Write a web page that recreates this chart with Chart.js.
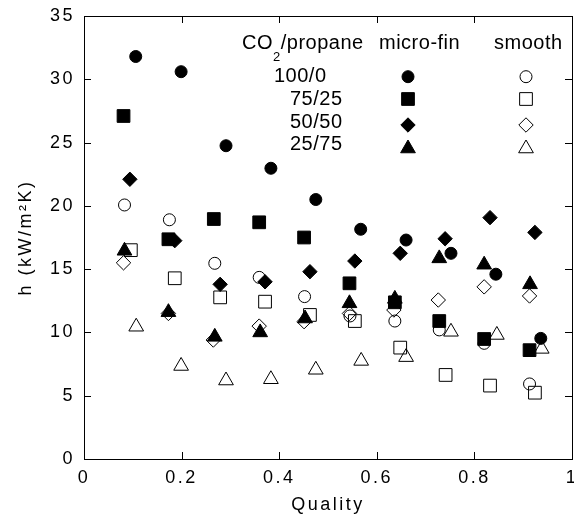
<!DOCTYPE html>
<html>
<head>
<meta charset="utf-8">
<script src="https://cdn.jsdelivr.net/npm/chart.js@4/dist/chart.umd.min.js"></script>
<style>
  html, body { margin: 0; padding: 0; background: #fff; overflow: hidden; }
  canvas { display: block; }
</style>
</head>
<body>
<canvas id="chart" width="574" height="518"></canvas>
<script>
/* quality (x) and heat transfer coefficient h in kW/m2K (y) */
var ratios = ["100/0", "75/25", "50/50", "25/75"];
var xTicks = [0, 0.2, 0.4, 0.6, 0.8, 1];
var yTicks = [0, 5, 10, 15, 20, 25, 30, 35];

// micro-fin tube
var qFin100 = [0.106, 0.199, 0.291, 0.383, 0.475, 0.567, 0.660, 0.752, 0.844, 0.936];
var hFin100 = [31.8, 30.6, 24.75, 22.97, 20.5, 18.15, 17.3, 16.25, 14.6, 9.53];
var qFin75 = [0.081, 0.173, 0.266, 0.359, 0.451, 0.544, 0.637, 0.728, 0.820, 0.913];
var hFin75 = [27.1, 17.36, 18.96, 18.7, 17.5, 13.88, 12.38, 10.9, 9.48, 8.6];
var qFin50 = [0.094, 0.186, 0.279, 0.371, 0.463, 0.555, 0.648, 0.740, 0.832, 0.924];
var hFin50 = [22.1, 17.25, 13.8, 14.0, 14.8, 15.64, 16.25, 17.4, 19.07, 17.9];
var qFin25 = [0.083, 0.173, 0.268, 0.361, 0.453, 0.544, 0.637, 0.728, 0.820, 0.914];
var hFin25 = [16.45, 11.6, 9.65, 10.0, 11.1, 12.3, 12.65, 15.85, 15.35, 13.8];

// smooth tube
var qSm100 = [0.083, 0.175, 0.268, 0.359, 0.452, 0.545, 0.637, 0.728, 0.820, 0.913];
var hSm100 = [20.07, 18.9, 15.46, 14.35, 12.83, 11.3, 10.9, 10.2, 9.14, 5.93];
var qSm75 = [0.096, 0.186, 0.279, 0.371, 0.463, 0.555, 0.648, 0.741, 0.832, 0.924];
var hSm75 = [16.5, 14.28, 12.77, 12.43, 11.38, 10.9, 8.8, 6.64, 5.8, 5.24];
var qSm50 = [0.081, 0.173, 0.265, 0.359, 0.451, 0.544, 0.635, 0.726, 0.820, 0.913];
var hSm50 = [15.5, 11.5, 9.4, 10.5, 10.85, 11.5, 11.77, 12.56, 13.6, 12.88];
var qSm25 = [0.107, 0.199, 0.291, 0.383, 0.475, 0.568, 0.660, 0.752, 0.846, 0.938];
var hSm25 = [10.45, 7.35, 6.2, 6.3, 7.05, 7.75, 8.05, 10.05, 9.8, 8.7];

// marker per mixture ratio
var shapes = [
  { style: "circle", r: 6 },
  { style: "rect", r: 9 },
  { style: "rectRot", r: 7.2 },
  { style: "triangle", r: 8.5 }
];

function pts(qs, hs) {
  return qs.map(function (q, i) { return { x: q, y: hs[i] }; });
}

function series(label, qs, hs, k, filled) {
  return {
    label: label,
    data: pts(qs, hs),
    showLine: false,
    pointStyle: shapes[k].style,
    pointRadius: shapes[k].r,
    pointBorderWidth: 1,
    pointBorderColor: "#000",
    pointBackgroundColor: filled ? "#000" : "rgba(0,0,0,0)"
  };
}

var datasets = [
  series("smooth 100/0", qSm100, hSm100, 0, false),
  series("smooth 75/25", qSm75, hSm75, 1, false),
  series("smooth 50/50", qSm50, hSm50, 2, false),
  series("smooth 25/75", qSm25, hSm25, 3, false),
  series("micro-fin 100/0", qFin100, hFin100, 0, true),
  series("micro-fin 75/25", qFin75, hFin75, 1, true),
  series("micro-fin 50/50", qFin50, hFin50, 2, true),
  series("micro-fin 25/75", qFin25, hFin25, 3, true)
];

var FONT = "'Liberation Sans', Arial, sans-serif";

// wider letter spacing for tick labels and axis titles
var spacing = {
  id: "spacing",
  beforeDraw: function (chart) { chart.ctx.letterSpacing = "2.5px"; },
  afterDraw: function (chart) { chart.ctx.letterSpacing = "0px"; }
};

// closed frame with inward tick marks on all four sides
var frame = {
  id: "frame",
  afterDatasetsDraw: function (chart) {
    var ctx = chart.ctx, a = chart.chartArea;
    var xs = chart.scales.x, ys = chart.scales.y;
    var len = 7;
    ctx.save();
    ctx.strokeStyle = "#000";
    ctx.lineWidth = 1;
    ctx.beginPath();
    ctx.moveTo(a.left, a.top + 0.5);
    ctx.lineTo(a.right + 0.5, a.top + 0.5);
    ctx.lineTo(a.right + 0.5, a.bottom);
    xTicks.forEach(function (v) {
      var px = Math.round(xs.getPixelForValue(v)) + 0.5;
      ctx.moveTo(px, a.bottom);
      ctx.lineTo(px, a.bottom - len);
      ctx.moveTo(px, a.top);
      ctx.lineTo(px, a.top + len);
    });
    yTicks.forEach(function (v) {
      var py = Math.round(ys.getPixelForValue(v)) + 0.5;
      ctx.moveTo(a.left, py);
      ctx.lineTo(a.left + len, py);
      ctx.moveTo(a.right, py);
      ctx.lineTo(a.right - len, py);
    });
    ctx.stroke();
    ctx.restore();
  }
};

// legend table: mixture ratio rows, micro-fin / smooth columns
var table = {
  id: "table",
  afterDraw: function (chart) {
    var ctx = chart.ctx;
    ctx.save();
    ctx.fillStyle = "#000";
    ctx.textAlign = "left";
    ctx.textBaseline = "alphabetic";
    ctx.letterSpacing = "0.5px";
    ctx.font = "20px " + FONT;
    var x = 242;
    ctx.fillText("CO", x, 49);
    x += ctx.measureText("CO").width;
    ctx.font = "13px " + FONT;
    ctx.fillText("2", x, 61);
    x += ctx.measureText("2").width;
    ctx.font = "20px " + FONT;
    ctx.fillText("/propane", x, 49);
    ctx.fillText("micro-fin", 379, 49);
    ctx.fillText("smooth", 494, 49);

    var rowX = [274, 290, 290, 290];
    var rowBase = [82, 105, 128, 150];
    var symY = [76.7, 99, 125, 148.5];
    ratios.forEach(function (r, i) {
      ctx.fillText(r, rowX[i], rowBase[i]);
      var opt = { pointStyle: shapes[i].style, radius: shapes[i].r, rotation: 0, borderWidth: 1 };
      ctx.strokeStyle = "#000";
      ctx.lineWidth = 1;
      ctx.fillStyle = "#000";
      Chart.helpers.drawPoint(ctx, opt, 408, symY[i]);
      ctx.fillStyle = "rgba(0,0,0,0)";
      Chart.helpers.drawPoint(ctx, opt, 526, symY[i]);
      ctx.fillStyle = "#000";
    });
    ctx.restore();
  }
};

new Chart(document.getElementById("chart"), {
  type: "scatter",
  data: { datasets: datasets },
  plugins: [spacing, frame, table],
  options: {
    responsive: false,
    animation: false,
    events: [],
    layout: { autoPadding: false, padding: { top: 16, right: 2, left: 0, bottom: 0 } },
    plugins: { legend: { display: false }, tooltip: { enabled: false } },
    scales: {
      x: {
        type: "linear",
        min: 0,
        max: 1,
        afterBuildTicks: function (s) { s.ticks = xTicks.map(function (v) { return { value: v }; }); },
        afterFit: function (s) { s.height = 59; s.paddingLeft = 0; s.paddingRight = 0; },
        grid: { display: false, drawTicks: false },
        border: { display: true, color: "#000", width: 1 },
        ticks: {
          padding: 8,
          color: "#000",
          font: { family: FONT, size: 18 },
          callback: function (v) { return (v === 0 || v === 1) ? String(v) : v.toFixed(1); }
        },
        title: {
          display: true,
          text: "Quality",
          color: "#000",
          font: { family: FONT, size: 18 },
          padding: { top: 0, bottom: 2 }
        }
      },
      y: {
        type: "linear",
        min: 0,
        max: 35,
        afterBuildTicks: function (s) { s.ticks = yTicks.map(function (v) { return { value: v }; }); },
        afterFit: function (s) { s.width = 84; s.paddingTop = 0; s.paddingBottom = 0; },
        grid: { display: false, drawTicks: false },
        border: { display: true, color: "#000", width: 1 },
        ticks: {
          padding: 9,
          color: "#000",
          font: { family: FONT, size: 18 }
        },
        title: {
          display: true,
          text: "h (kW/m\u00B2K)",
          color: "#000",
          font: { family: FONT, size: 18 },
          padding: { top: 15, bottom: 0 }
        }
      }
    }
  }
});
</script>
</body>
</html>
